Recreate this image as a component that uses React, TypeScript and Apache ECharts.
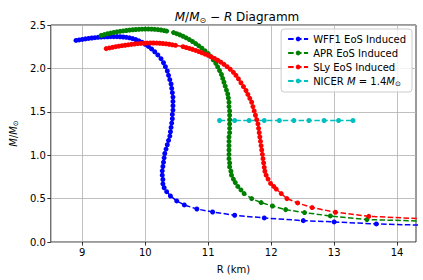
import React, { useEffect, useRef } from "react";
import * as echarts from "echarts";

// WFF1 EoS Induced: [R (km), M/Msun]
const wff1R = [8.90, 8.95, 9.00, 9.05, 9.10, 9.15, 9.20, 9.25, 9.30, 9.35, 9.40, 9.45, 9.50, 9.55, 9.60, 9.65, 9.70, 9.75, 9.80, 9.85, 9.90, 9.95, 10.00, 10.05, 10.10, 10.15, 10.20, 10.25, 10.29, 10.32, 10.35, 10.37, 10.39, 10.41, 10.42, 10.43, 10.44, 10.44, 10.44, 10.44, 10.43, 10.43, 10.42, 10.41, 10.40, 10.39, 10.37, 10.35, 10.33, 10.31, 10.30, 10.29, 10.28, 10.27, 10.27, 10.28, 10.28, 10.30, 10.34, 10.40, 10.50, 10.62, 10.82, 11.07, 11.42, 11.89, 12.51, 13.00, 13.67, 14.50];
const wff1M = [2.322, 2.328, 2.334, 2.340, 2.345, 2.350, 2.354, 2.358, 2.361, 2.363, 2.365, 2.366, 2.366, 2.366, 2.365, 2.362, 2.358, 2.352, 2.343, 2.332, 2.318, 2.300, 2.278, 2.253, 2.224, 2.192, 2.155, 2.112, 2.065, 2.020, 1.970, 1.920, 1.870, 1.820, 1.770, 1.720, 1.670, 1.620, 1.570, 1.520, 1.470, 1.420, 1.370, 1.320, 1.270, 1.220, 1.170, 1.120, 1.070, 1.020, 0.970, 0.920, 0.870, 0.820, 0.770, 0.720, 0.670, 0.625, 0.580, 0.530, 0.473, 0.427, 0.380, 0.346, 0.308, 0.277, 0.246, 0.231, 0.208, 0.192];

// APR EoS Induced
const aprR = [9.30, 9.35, 9.40, 9.45, 9.50, 9.55, 9.60, 9.65, 9.70, 9.75, 9.80, 9.85, 9.90, 9.95, 10.00, 10.05, 10.10, 10.15, 10.20, 10.25, 10.30, 10.34, 10.45, 10.50, 10.55, 10.60, 10.65, 10.70, 10.75, 10.80, 10.85, 10.90, 10.95, 11.00, 11.04, 11.08, 11.12, 11.15, 11.18, 11.21, 11.23, 11.25, 11.27, 11.29, 11.31, 11.32, 11.33, 11.33, 11.34, 11.34, 11.34, 11.34, 11.34, 11.34, 11.33, 11.33, 11.33, 11.33, 11.33, 11.33, 11.34, 11.34, 11.36, 11.37, 11.40, 11.43, 11.47, 11.52, 11.57, 11.69, 11.84, 12.02, 12.23, 12.53, 12.94, 13.52, 14.60];
const aprM = [2.380, 2.390, 2.399, 2.407, 2.414, 2.421, 2.427, 2.432, 2.437, 2.441, 2.445, 2.448, 2.450, 2.452, 2.453, 2.453, 2.452, 2.450, 2.447, 2.442, 2.436, 2.430, 2.413, 2.400, 2.386, 2.370, 2.352, 2.332, 2.310, 2.286, 2.260, 2.232, 2.202, 2.170, 2.136, 2.098, 2.058, 2.018, 1.975, 1.930, 1.885, 1.840, 1.795, 1.750, 1.705, 1.660, 1.610, 1.560, 1.510, 1.460, 1.410, 1.360, 1.310, 1.260, 1.210, 1.160, 1.110, 1.060, 1.010, 0.960, 0.910, 0.865, 0.815, 0.770, 0.725, 0.685, 0.640, 0.600, 0.558, 0.500, 0.454, 0.415, 0.373, 0.339, 0.300, 0.258, 0.238];

// SLy EoS Induced
const slyR = [9.38, 9.43, 9.48, 9.53, 9.58, 9.63, 9.68, 9.73, 9.78, 9.83, 9.88, 9.93, 9.98, 10.03, 10.08, 10.13, 10.18, 10.23, 10.28, 10.33, 10.38, 10.43, 10.48, 10.60, 10.65, 10.70, 10.75, 10.80, 10.85, 10.90, 10.95, 11.00, 11.05, 11.10, 11.15, 11.20, 11.25, 11.30, 11.35, 11.40, 11.44, 11.48, 11.52, 11.56, 11.60, 11.63, 11.66, 11.69, 11.71, 11.73, 11.75, 11.77, 11.79, 11.80, 11.81, 11.82, 11.83, 11.84, 11.85, 11.86, 11.87, 11.88, 11.89, 11.90, 11.92, 11.95, 11.99, 12.04, 12.08, 12.16, 12.25, 12.42, 12.65, 13.02, 13.55, 14.50];
const slyM = [2.228, 2.236, 2.243, 2.250, 2.256, 2.262, 2.267, 2.272, 2.277, 2.281, 2.285, 2.288, 2.290, 2.292, 2.293, 2.293, 2.292, 2.290, 2.287, 2.283, 2.278, 2.272, 2.266, 2.250, 2.240, 2.230, 2.219, 2.207, 2.194, 2.180, 2.165, 2.150, 2.133, 2.115, 2.094, 2.072, 2.047, 2.020, 1.990, 1.955, 1.920, 1.880, 1.835, 1.790, 1.745, 1.700, 1.655, 1.610, 1.560, 1.510, 1.460, 1.410, 1.360, 1.310, 1.260, 1.210, 1.160, 1.110, 1.060, 1.010, 0.960, 0.910, 0.860, 0.815, 0.770, 0.725, 0.675, 0.640, 0.610, 0.558, 0.500, 0.450, 0.397, 0.343, 0.296, 0.263];

// NICER M = 1.4 Msun
const nicerR = [11.18, 11.42, 11.65, 11.89, 12.13, 12.36, 12.60, 12.84, 13.07, 13.30];
const nicerM = [1.4, 1.4, 1.4, 1.4, 1.4, 1.4, 1.4, 1.4, 1.4, 1.4];

const xTicks = [9, 10, 11, 12, 13, 14];
const seriesNames = ["WFF1 EoS Induced", "APR EoS Induced", "SLy EoS Induced", "NICER"];
const seriesColors = ["#0000ff", "#008000", "#ff0000", "#00bfbf"];

const FONT = "DejaVu Sans";

function zip(a: number[], b: number[]) {
  return a.map((v, i) => [v, b[i]]);
}

export default function App() {
  const ref = useRef<HTMLDivElement>(null);
  useEffect(() => {
    document.body.style.margin = "0";
    const chart = echarts.init(ref.current!, null, { renderer: "svg" });
    const datasets = [zip(wff1R, wff1M), zip(aprR, aprM), zip(slyR, slyM), zip(nicerR, nicerM)];
    const rich = {
      i: { fontStyle: "italic", fontFamily: FONT, fontSize: 10, color: "#000" },
      s: { fontFamily: FONT, fontSize: 7, color: "#000", padding: [5, 0, 0, 0] },
    };
    chart.setOption({
      animation: false,
      title: {
        text: "{i|M}/{i|M}{s|⊙}{n| − }{i|R}{n| Diagramm}",
        left: 232,
        textAlign: "center",
        top: 5,
        textStyle: {
          fontFamily: FONT,
          fontSize: 12,
          fontWeight: "normal",
          color: "#000",
          rich: {
            i: { fontStyle: "italic", fontFamily: FONT, fontSize: 12, color: "#000" },
            s: { fontFamily: FONT, fontSize: 8, color: "#000", padding: [6, 0, 0, 0] },
            n: { fontFamily: FONT, fontSize: 12, color: "#000" },
          },
        },
      },
      legend: {
        orient: "vertical",
        right: 11,
        top: 29,
        itemWidth: 20,
        itemHeight: 6,
        itemGap: 4,
        padding: [5, 6, 5, 6],
        backgroundColor: "rgba(255,255,255,0.8)",
        borderColor: "#cccccc",
        borderWidth: 1,
        borderRadius: 3,
        data: seriesNames,
        formatter: (name: string) => (name === "NICER" ? "NICER {i|M} = 1.4{i|M}{s|⊙}" : name),
        textStyle: { fontFamily: FONT, fontSize: 10, color: "#000", rich },
      },
      grid: {
        left: 48,
        right: 7,
        top: 25,
        bottom: 38,
        show: true,
        borderColor: "#000",
        borderWidth: 0.8,
        backgroundColor: "transparent",
      },
      xAxis: {
        type: "value",
        min: 8.5,
        max: 14.3,
        name: "R (km)",
        nameLocation: "middle",
        nameGap: 22,
        nameTextStyle: { fontFamily: FONT, fontSize: 10, color: "#000" },
        axisLine: { show: false },
        axisTick: { show: true, inside: false, length: 3.5, lineStyle: { color: "#000", width: 0.8 }, customValues: xTicks },
        axisLabel: { fontFamily: FONT, fontSize: 10, color: "#000", margin: 5, customValues: xTicks, formatter: (v: number) => String(v) },
        splitLine: { show: true, lineStyle: { color: "#b0b0b0", width: 0.8 } },
      },
      yAxis: {
        type: "value",
        min: 0,
        max: 2.5,
        interval: 0.5,
        name: "{i|M}/{i|M}{s|⊙}",
        nameLocation: "middle",
        nameRotate: 90,
        nameGap: 31,
        nameTextStyle: { fontFamily: FONT, fontSize: 10, color: "#000", rich },
        axisLine: { show: false },
        axisTick: { show: true, inside: false, length: 3.5, lineStyle: { color: "#000", width: 0.8 } },
        axisLabel: { fontFamily: FONT, fontSize: 10, color: "#000", margin: 5, formatter: (v: number) => v.toFixed(1) },
        splitLine: { show: true, lineStyle: { color: "#b0b0b0", width: 0.8 } },
      },
      series: datasets.map((d, k) => ({
        name: seriesNames[k],
        type: "line",
        data: d,
        symbol: "circle",
        symbolSize: 5,
        showSymbol: true,
        clip: true,
        color: seriesColors[k],
        itemStyle: { color: seriesColors[k] },
        lineStyle: { color: seriesColors[k], width: 1.5, type: [5.5, 2.4] },
        emphasis: { disabled: true },
      })),
    });
    return () => chart.dispose();
  }, []);
  return <div ref={ref} style={{ width: 423, height: 280 }} />;
}
